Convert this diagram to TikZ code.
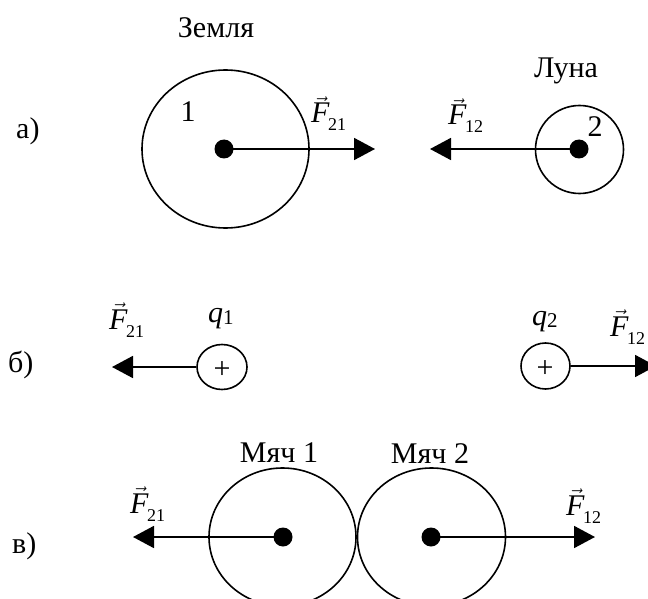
\documentclass[tikz,border=0pt]{standalone}
\usepackage{fontspec}
\setmainfont{Liberation Serif}
\usetikzlibrary{arrows.meta,shapes.geometric,calc}
\newcommand\vF[1]{$\vec{\hbox{\itshape F}}$\kern-1.5pt\raisebox{-8pt}{\fontsize{18}{18}\selectfont #1}}
\newcommand\qq[1]{{\itshape q}\raisebox{-2pt}{\fontsize{21}{21}\selectfont #1}}
\begin{document}
\begin{tikzpicture}[x=1pt,y=-1pt,
  txt/.style={inner sep=0pt, font=\fontsize{30}{36}\selectfont},
  body/.style={draw, ellipse, line width=1.6pt, inner sep=0pt},
  dot/.style={circle, fill, inner sep=0pt, minimum size=19pt},
  force/.style={line width=1.8pt, -{Triangle[length=21pt,width=22pt]}}]
\useasboundingbox (0,0) rectangle (648,599);

% ---------- a) ----------
\node[txt, anchor=base west] (la) at (16,139) {а)};
\node[txt, anchor=base] (zemlya) at (216,38) {Земля};
\node[body, minimum width=167pt, minimum height=158pt] (earth) at (225.5,149) {};
\node[txt, anchor=base] (n1) at (188,122) {1};
\node[dot] (de) at (224,149) {};
\coordinate (ta1) at (375,149);
\draw[force] (de.center) -- (ta1);
\node[txt, anchor=base west] (fa1) at (311,123) {\vF{21}};

\node[txt, anchor=base] (luna) at (566,78) {Луна};
\node[body, minimum size=88pt] (moon) at (579.5,149.5) {};
\node[txt, anchor=base] (n2) at (595,137) {2};
\node[dot] (dm) at (579,149) {};
\coordinate (ta2) at (430,149);
\draw[force] (dm.center) -- (ta2);
\node[txt, anchor=base west] (fa2) at (448,125) {\vF{12}};

% ---------- b) ----------
\node[txt, anchor=base west] (lb) at (8,372) {б)};
\node[body, minimum width=50pt, minimum height=45pt] (q1) at (222,367) {};
\node[txt] (p1) at (222,370) {+};
\node[txt, anchor=base west] (lq1) at (208,322.5) {\qq{1}};
\coordinate (tb1) at (112,367);
\draw[force] (q1.west) -- (tb1);
\node[txt, anchor=base west] (fb1) at (109,329) {\vF{21}};

\node[body, minimum width=49pt, minimum height=46pt] (q2) at (545.5,366) {};
\node[txt] (p2) at (545,369.5) {+};
\node[txt, anchor=base west] (lq2) at (532,325) {\qq{2}};
\coordinate (tb2) at (656,366);
\draw[force] (q2.east) -- (tb2);
\node[txt, anchor=base west] (fb2) at (610,336) {\vF{12}};

% ---------- c) ----------
\node[txt, anchor=base west] (lc) at (12,553) {в)};
\node[txt, anchor=base] (m1) at (279,462) {Мяч 1};
\node[txt, anchor=base] (m2) at (430,463) {Мяч 2};
\node[body, minimum width=147pt, minimum height=138pt] (ball1) at (282.5,537) {};
\node[body, minimum width=148pt, minimum height=138pt] (ball2) at (431.5,537) {};
\node[dot] (d1) at (283,537) {};
\node[dot] (d2) at (431,537) {};
\coordinate (tc1) at (133,537);
\coordinate (tc2) at (595,537);
\draw[force] (d1.center) -- (tc1);
\draw[force] (d2.center) -- (tc2);
\node[txt, anchor=base west] (fc1) at (130,513) {\vF{21}};
\node[txt, anchor=base west] (fc2) at (566,515) {\vF{12}};
\end{tikzpicture}
\end{document}
